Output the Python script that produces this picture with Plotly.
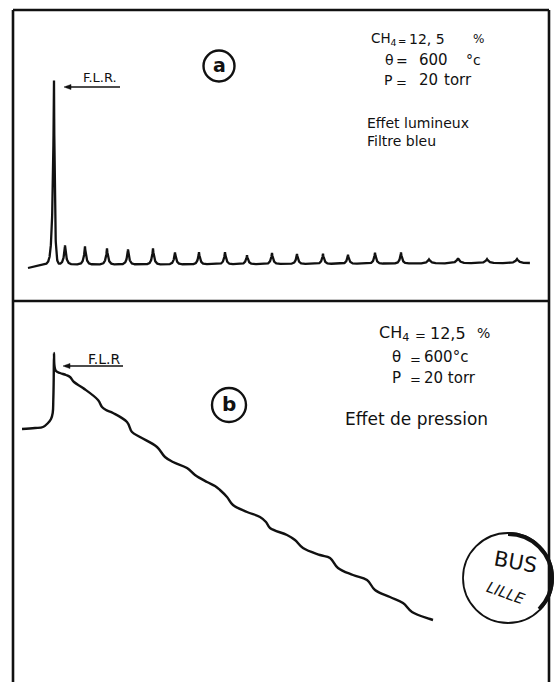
import numpy as np
import plotly.graph_objects as go

W, H = 560, 682

# ---------------- panel (a): luminous effect, blue filter ----------------
# main flash (F.L.R.) and the train of small pulses that follows it
flash_t = 8.4
flash_h = 92.0
flash_w_left = 0.28
flash_w_right = 0.17

pulse_t = [10.6, 14.6, 19.0, 23.2, 28.2, 32.6, 37.4, 42.6, 47.0, 52.0,
           57.0, 62.2, 67.2, 72.6, 77.8, 83.4, 89.2, 95.0, 101.0]
pulse_h = [9.5, 9.0, 8.0, 7.5, 8.0, 6.0, 6.0, 6.0, 4.5, 5.5,
           5.0, 5.0, 4.5, 5.5, 5.5, 2.0, 2.5, 2.0, 2.0]
pulse_w = [0.28] * 15 + [0.45] * 4

base_t = [3.2, 6.6, 30.0, 103.6]
base_v = [16.0, 17.8, 17.8, 18.5]

# ---------------- panel (b): pressure effect ----------------
press_t = [2.0, 4.6, 6.2, 7.2, 7.8, 8.14, 8.26, 8.34, 8.4, 8.5, 8.8, 9.6,
           10.8, 11.6, 12.4, 14.2, 17.2, 18.0, 18.8, 20.2, 23.0, 24.0,
           25.6, 29.0, 30.6, 32.2, 35.0, 36.6, 39.0, 40.6, 41.6, 43.0,
           44.2, 47.0, 49.6, 50.8, 51.6, 55.0, 56.6, 58.2, 61.6, 63.6,
           65.2, 68.2, 71.0, 72.6, 75.6, 78.2, 80.0, 83.6, 84.2]
press_v = [126.5, 127.0, 127.5, 129.5, 131.5, 134.5, 141.0, 151.0, 164.5,
           158.0, 155.5, 154.5, 153.5, 152.5, 150.0, 147.0, 141.0, 137.5,
           136.0, 134.5, 130.0, 125.0, 122.5, 117.5, 112.5, 110.0, 107.0,
           103.5, 100.0, 98.0, 96.0, 92.5, 88.5, 85.0, 82.5, 80.0, 77.0,
           73.5, 71.0, 67.0, 63.5, 62.0, 57.0, 53.5, 51.0, 46.0, 42.5,
           39.5, 35.0, 31.5, 31.0]

INK = "#111111"
FONT = "DejaVu Sans"


# build the luminous trace from the flash and pulse list
t = np.arange(base_t[0], base_t[-1], 0.02)
t = np.union1d(t, np.array([flash_t] + pulse_t))
sig = np.interp(t, base_t, base_v)
d = t - flash_t
sig = sig + flash_h * np.where(d < 0, np.exp(d / flash_w_left), np.exp(-d / flash_w_right))
for pt, ph, pw in zip(pulse_t, pulse_h, pulse_w):
    sig = sig + ph * np.exp(-np.abs(t - pt) / pw)


def fx(px):
    return px / W


def fy(py):
    return 1 - py / H


fig = go.Figure()
fig.add_trace(go.Scatter(x=t, y=sig, mode="lines", xaxis="x", yaxis="y",
                         line=dict(color=INK, width=2.3), hoverinfo="skip"))
fig.add_trace(go.Scatter(x=press_t, y=press_v, mode="lines", xaxis="x2", yaxis="y2",
                         line=dict(color=INK, width=2.4, shape="spline", smoothing=1.1),
                         hoverinfo="skip"))

ax_common = dict(visible=False, fixedrange=True)
fig.update_layout(
    width=W, height=H,
    margin=dict(l=0, r=0, t=0, b=0),
    paper_bgcolor="white", plot_bgcolor="rgba(0,0,0,0)",
    showlegend=False,
    xaxis=dict(domain=[fx(12), fx(549)], range=[0, 107.4], **ax_common),
    yaxis=dict(domain=[fy(300), fy(10)], range=[0, 145], **ax_common),
    xaxis2=dict(domain=[fx(12), fx(549)], range=[0, 107.4], anchor="y2", **ax_common),
    yaxis2=dict(domain=[0, fy(300)], range=[0, 191], anchor="x2", **ax_common),
)

# frame: closed box for (a), open-bottom sides for (b)
shapes = [
    dict(type="line", xref="paper", yref="paper", x0=fx(13), x1=fx(549), y0=fy(10), y1=fy(10)),
    dict(type="line", xref="paper", yref="paper", x0=fx(13), x1=fx(549), y0=fy(301), y1=fy(301)),
    dict(type="line", xref="paper", yref="paper", x0=fx(13), x1=fx(13), y0=fy(10), y1=0),
    dict(type="line", xref="paper", yref="paper", x0=fx(549), x1=fx(549), y0=fy(10), y1=0),
]
for s in shapes:
    s["line"] = dict(color=INK, width=2.6)


def circle(cx, cy, r, width=2.4):
    return dict(type="circle", xref="paper", yref="paper",
                x0=fx(cx - r), x1=fx(cx + r), y0=fy(cy + r), y1=fy(cy - r),
                line=dict(color=INK, width=width))


def stamp_rim(cx, cy, r, width):
    # heavier inked rim on the right-hand side of the stamp (top -> right -> lower right)
    k1 = 0.5523 * r
    k2 = 0.2652 * r
    c45 = 0.7071 * r
    pts = [
        (cx, cy - r), (cx + k1, cy - r), (cx + r, cy - k1), (cx + r, cy),
        (cx + r, cy + k2), (cx + c45 + k2 * 0.7071, cy + c45 - k2 * 0.7071), (cx + c45, cy + c45),
    ]
    p = [f"{fx(x):.5f} {fy(y):.5f}" for x, y in pts]
    path = f"M {p[0]} C {p[1]} {p[2]} {p[3]} C {p[4]} {p[5]} {p[6]}"
    return dict(type="path", xref="paper", yref="paper", path=path,
                line=dict(color=INK, width=width))


def arrow(x_head, x_tail, y):
    # shaft plus a small filled head pointing left
    line = dict(type="line", xref="paper", yref="paper",
                x0=fx(x_head + 2), x1=fx(x_tail), y0=fy(y), y1=fy(y),
                line=dict(color=INK, width=1.6))
    head = dict(type="path", xref="paper", yref="paper",
                path=(f"M {fx(x_head)} {fy(y)} L {fx(x_head + 7)} {fy(y - 2.5)} "
                      f"L {fx(x_head + 7)} {fy(y + 2.5)} Z"),
                fillcolor=INK, line=dict(color=INK, width=0.5))
    return [line, head]


shapes.append(circle(219, 66, 15.5))
shapes.append(circle(229, 405, 17))
shapes.append(circle(508, 578, 45, width=1.8))
shapes.append(stamp_rim(508, 578, 44, width=4.0))
shapes += arrow(64, 120, 87)
shapes += arrow(63, 123, 366)
fig.update_layout(shapes=shapes)

annotations = []


def text(s, x, y, size=14, xanchor="left", bold=False, italic=False, angle=0):
    annotations.append(dict(
        text=f"<b>{s}</b>" if bold else s, x=fx(x), y=fy(y), xref="paper", yref="paper",
        xanchor=xanchor, yanchor="middle", showarrow=False, textangle=angle,
        font=dict(family=FONT, size=size, color=INK, style="italic" if italic else "normal")))


# panel (a) labels
text("a", 219, 65, size=19, xanchor="center", bold=True)
text("F.L.R.", 100, 77, size=13, xanchor="center")
text("CH<sub>4</sub>", 369, 39, size=13.5)
text("=", 402, 42, size=10, xanchor="center")
text("12, 5", 407, 39, size=14)
text("%", 471, 39, size=12)
text("θ", 383, 60, size=14)
text("=", 402, 61, size=14, xanchor="center")
text("600", 417, 60, size=15)
text("°c", 464, 60, size=14)
text("P", 382, 80, size=14)
text("=", 401, 82, size=13, xanchor="center")
text("20", 417, 80, size=15)
text("torr", 442, 80, size=15)
text("Effet lumineux", 365, 123, size=14)
text("Filtre bleu", 365, 141, size=14)

# panel (b) labels
text("b", 229, 404, size=20, xanchor="center", bold=True)
text("F.L.R", 104, 359, size=14, xanchor="center")
text("CH<sub>4</sub>", 377, 333, size=16)
text("=", 420, 335, size=13, xanchor="center")
text("12,5", 428, 333, size=16)
text("%", 475, 333, size=14)
text("θ", 390, 357, size=15)
text("=", 415, 359, size=13, xanchor="center")
text("600°c", 422, 357, size=15)
text("P", 390, 378, size=15)
text("=", 415, 380, size=13, xanchor="center")
text("20 torr", 422, 378, size=15)
text("Effet de pression", 343, 419, size=17)

# library stamp
text("BUS", 515, 562, size=21, xanchor="center", angle=10)
text("LILLE", 505, 593, size=15, xanchor="center", italic=True, angle=20)

fig.update_layout(annotations=annotations)

fig.write_html("out.html")
